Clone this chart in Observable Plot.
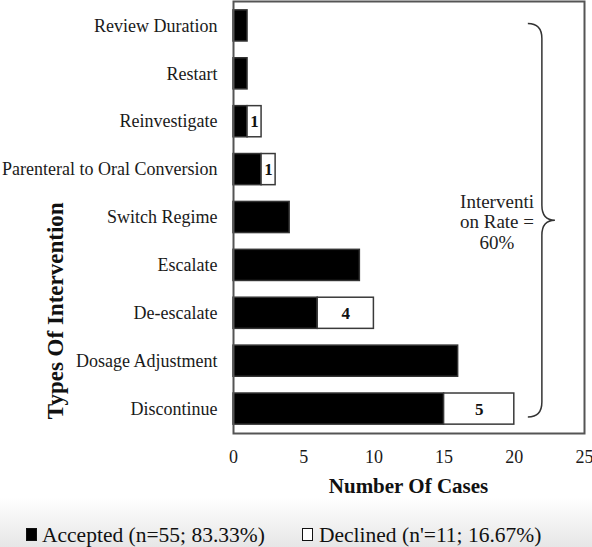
<!DOCTYPE html>
<html>
<head>
<meta charset="utf-8">
<script src="https://cdn.jsdelivr.net/npm/d3@7"></script>
<script src="https://cdn.jsdelivr.net/npm/@observablehq/plot@0.6"></script>
<style>
  html, body { margin: 0; padding: 0; }
  body {
    width: 592px; height: 547px; overflow: hidden;
    background: linear-gradient(to bottom, #ffffff 0px, #ffffff 498px, #e6e6e6 547px);
    font-family: "Liberation Serif", serif;
  }
  #legend { position: relative; height: 47px; font-size: 21.5px; line-height: 21.5px; color: #111; }
  .txt { position: absolute; top: 25px; white-space: nowrap; }
  .sw { position: absolute; top: 28px; width: 11px; height: 13px; box-sizing: border-box; border: 1.3px solid #111; }
</style>
</head>
<body>
<div id="chart"></div>
<div id="legend"></div>
<script>
const categories = ["Review Duration", "Restart", "Reinvestigate", "Parenteral to Oral Conversion", "Switch Regime", "Escalate", "De-escalate", "Dosage Adjustment", "Discontinue"];
const accepted = [1, 1, 1, 2, 4, 9, 6, 16, 15];
const declined = [0, 0, 1, 1, 0, 0, 4, 0, 5];
const xTicks = [0, 5, 10, 15, 20, 25];
const statuses = ["Accepted", "Declined"];
const legendLabels = ["Accepted (n=55; 83.33%)", "Declined (n'=11; 16.67%)"];
const annotation = "Interventi\non Rate =\n60%";
const xTitle = "Number Of Cases";
const yTitle = "Types Of Intervention";

const rows = [];
categories.forEach((c, i) => {
  rows.push({category: c, status: "Accepted", value: accepted[i]});
  if (declined[i] > 0) rows.push({category: c, status: "Declined", value: declined[i]});
});

const font = "'Liberation Serif', serif";

const chart = Plot.plot({
  width: 592,
  height: 500,
  marginLeft: 233,
  marginRight: 8,
  marginTop: 1,
  marginBottom: 67,
  style: {fontFamily: font, fontSize: "18px", color: "#1a1a1a", background: "transparent"},
  x: {domain: [0, 25], ticks: xTicks, tickSize: 0, tickPadding: 17, label: null},
  y: {domain: categories, paddingInner: 0.35, paddingOuter: 0.185, round: false, tickSize: 0, tickPadding: 16, label: null},
  color: {domain: statuses, range: ["#000000", "#ffffff"]},
  marks: [
    Plot.barX(rows, Plot.stackX({
      x: "value", y: "category", fill: "status",
      stroke: d => d.status === "Accepted" ? "#333" : "#3a3a3a",
      strokeWidth: 1.5
    })),
    Plot.text(rows, Plot.stackX({
      x: "value", y: "category",
      text: d => d.status === "Declined" ? String(d.value) : null,
      fontWeight: "bold", fontSize: 17, fill: "#111"
    })),
    Plot.text([annotation], {
      frameAnchor: "right", dx: -87.5, dy: 4, text: d => d,
      textAnchor: "middle", lineHeight: 1.08, fontSize: 19, fill: "#222"
    }),
    Plot.frame({stroke: "#555", strokeWidth: 2})
  ]
});
document.getElementById("chart").appendChild(chart);

// brace & axis titles using the chart's scales
const sx = chart.scale("x"), sy = chart.scale("y");
const X = v => sx.apply ? sx.apply(v) : d3.scaleLinear(sx.domain, sx.range)(v);
const Y = v => sy.apply(v);
const bw = sy.bandwidth;
const svg = d3.select(chart);
const braceTop = Y(categories[0]) + bw / 2 - 2;
const braceBot = Y(categories[categories.length - 1]) + bw / 2 + 8.5;
const ym = (braceTop + braceBot) / 2;
const x0 = X(21.0), x1 = X(22.0), x2 = X(22.93), r = 15;
svg.append("path")
  .attr("d", `M${x0},${braceTop} Q${x1},${braceTop} ${x1},${braceTop + r} L${x1},${ym - r} Q${x1},${ym} ${x2},${ym} Q${x1},${ym} ${x1},${ym + r} L${x1},${braceBot - r} Q${x1},${braceBot} ${x0},${braceBot}`)
  .attr("fill", "none").attr("stroke", "#333").attr("stroke-width", 1.5);

svg.append("text")
  .attr("transform", `translate(${(X(0) + X(25)) / 2},493)`)
  .attr("text-anchor", "middle")
  .attr("font-family", font).attr("font-weight", "bold").attr("font-size", 21).attr("fill", "#111")
  .text(xTitle);

svg.append("text")
  .attr("transform", `translate(63,${(Y(categories[5]) + Y(categories[6])) / 2 + bw / 2 + 22}) rotate(-90)`)
  .attr("text-anchor", "middle")
  .attr("font-family", font).attr("font-weight", "bold").attr("font-size", 23).attr("fill", "#111")
  .text(yTitle);

// legend
const legend = document.getElementById("legend");
const swX = [26, 302], txtX = [42, 319];
legendLabels.forEach((lab, i) => {
  const sw = document.createElement("div");
  sw.className = "sw";
  sw.style.left = swX[i] + "px";
  sw.style.background = i === 0 ? "#000" : "#fff";
  legend.appendChild(sw);
  const t = document.createElement("div");
  t.className = "txt";
  t.style.left = txtX[i] + "px";
  t.textContent = lab;
  legend.appendChild(t);
});
</script>
</body>
</html>
